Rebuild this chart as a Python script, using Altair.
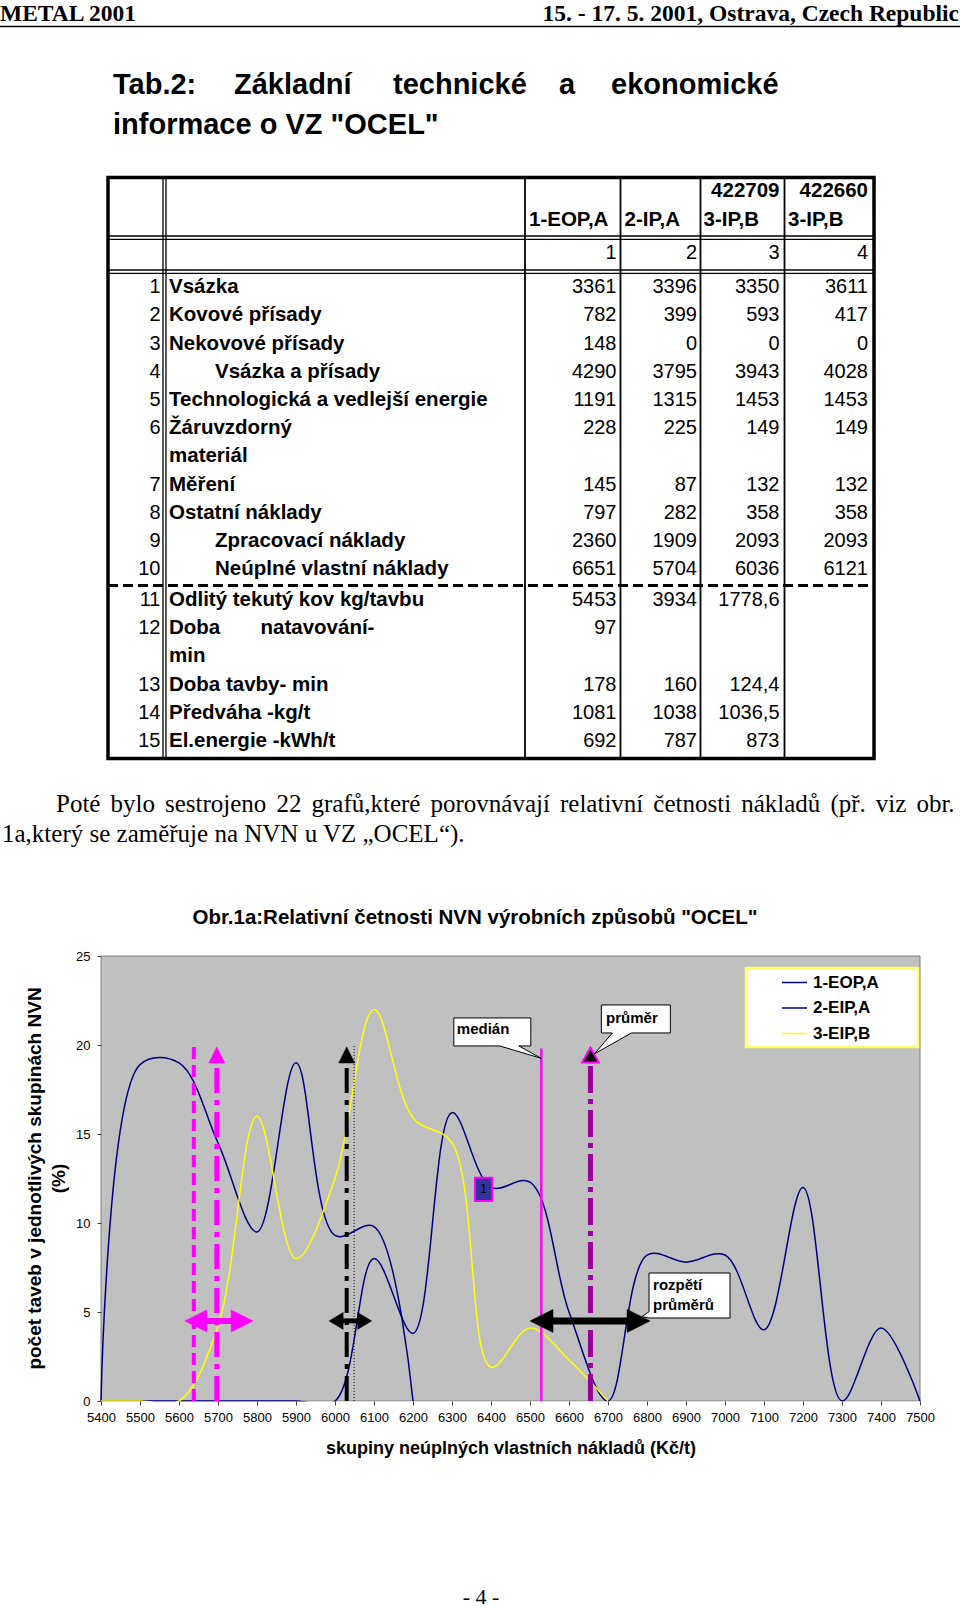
import altair as alt
import pandas as pd

# ---------------- page texts ----------------
header_left = "METAL 2001"
header_right = "15. - 17. 5. 2001, Ostrava, Czech Republic"
title_line1_words = ["Tab.2:", "Základní", "technické", "a", "ekonomické"]
title_line2 = 'informace o VZ "OCEL"'

col_codes = ["", "", "422709", "422660"]
col_names = ["1-EOP,A", "2-IP,A", "3-IP,B", "3-IP,B"]
col_numbers = ["1", "2", "3", "4"]

row_numbers = ["1", "2", "3", "4", "5", "6", "7", "8", "9", "10", "11", "12", "13", "14", "15"]
row_labels = ["Vsázka", "Kovové přísady", "Nekovové přísady", "Vsázka a přísady",
              "Technologická a vedlejší energie", "Žáruvzdorný", "Měření",
              "Ostatní náklady", "Zpracovací náklady", "Neúplné vlastní náklady",
              "Odlitý tekutý kov kg/tavbu", "Doba natavování-", "Doba tavby- min",
              "Předváha -kg/t", "El.energie -kWh/t"]
row_label_second_line = {5: "materiál", 11: "min"}
indented_rows = [3, 8, 9]
val_c1 = ["3361", "782", "148", "4290", "1191", "228", "145", "797", "2360", "6651",
          "5453", "97", "178", "1081", "692"]
val_c2 = ["3396", "399", "0", "3795", "1315", "225", "87", "282", "1909", "5704",
          "3934", "", "160", "1038", "787"]
val_c3 = ["3350", "593", "0", "3943", "1453", "149", "132", "358", "2093", "6036",
          "1778,6", "", "124,4", "1036,5", "873"]
val_c4 = ["3611", "417", "0", "4028", "1453", "149", "132", "358", "2093", "6121",
          "", "", "", "", ""]

paragraph_1 = "Poté bylo sestrojeno 22 grafů,které porovnávají relativní četnosti nákladů (př. viz obr."
paragraph_2 = "1a,který se zaměřuje na NVN u VZ „OCEL“)."
chart_title = 'Obr.1a:Relativní četnosti NVN výrobních způsobů "OCEL"'
footer_text = "- 4 -"

# ---------------- chart data ----------------
nvn_groups = [5400, 5500, 5600, 5700, 5800, 5900, 6000, 6100, 6200, 6300, 6400,
              6500, 6600, 6700, 6800, 6900, 7000, 7100, 7200, 7300, 7400, 7500]
series_names = ["1-EOP,A", "2-EIP,A", "3-EIP,B"]
eop_a = [0, 0, 0, 0, 0, 0, 0, 8.0, 3.8, 16.2, 12.0, 12.3, 5.0, 0, 8.2, 7.8, 8.2,
         4.0, 12.0, 0, 4.1, 0]
eip_a = [0, 18.9, 19.0, 14.5, 9.5, 19.0, 9.3, 9.8, 0, None, None, None, None, None,
         None, None, None, None, None, None, None, None]
eip_b = [0, 0, 0, 4.2, 16.0, 8.0, 12.5, 22.0, 15.9, 14.5, 1.9, 4.1, 2.3, 0,
         None, None, None, None, None, None, None, None]

avg_lines = [5697, 6030, 6655]      # průměr per process
dashed_line = 5638
dotted_line = 6049
median_line = 6529
range_lo = [5615, 5985, 6500]
range_hi = [5790, 6094, 6808]
range_level = 4.5
y_ticks = [0, 5, 10, 15, 20, 25]

y_title = ["počet taveb v jednotlivých  skupinách NVN", "(%)"]
x_title = "skupiny neúplných vlastních nákladů (Kč/t)"

# ---------------- layout ----------------
W, H = 960, 1609
PL, PR, PT, PB = 101, 920, 956, 1401
X0, X1, Y0, Y1 = 5400, 7500, 0, 25
pxx = (PR - PL) / (X1 - X0)
SANS = "Liberation Sans"
SERIF = "Liberation Serif"


def XS():
    return alt.Scale(domain=[X0, X1], range=[PL, PR], zero=False, nice=False)


def YS():
    return alt.Scale(domain=[Y0, Y1], range=[PB, PT], zero=False, nice=False)


def PXS():
    return alt.Scale(domain=[0, W], range=[0, W], zero=False, nice=False)


def PYS():
    return alt.Scale(domain=[0, H], range=[0, H], zero=False, nice=False)


def CX(f="x"):
    return alt.X(f + ":Q", scale=XS(), axis=None)


def CY(f="y"):
    return alt.Y(f + ":Q", scale=YS(), axis=None)


x_axis = alt.Axis(values=nvn_groups, format="d", orient="bottom", offset=-(H - PB),
                  domain=False, grid=False, tickSize=4, tickColor="#404040",
                  labelFont=SANS, labelFontSize=13, labelColor="black", labelPadding=6,
                  labelFlush=False, labelOverlap=False,
                  title=x_title, titleFont=SANS, titleFontSize=18, titleFontWeight="bold",
                  titleColor="black", titleY=52, titleBaseline="alphabetic", zindex=1)
y_axis = alt.Axis(values=y_ticks, orient="left", offset=-PL, domain=False, grid=False,
                  tickSize=4, tickColor="#404040", labelFont=SANS, labelFontSize=13,
                  labelColor="black", labelPadding=7,
                  title=y_title, titleFont=SANS, titleFontSize=19, titleFontWeight="bold",
                  titleColor="black", titleAngle=270, titleX=-57, titleY=1178,
                  titleBaseline="bottom", titleAlign="center", titleLineHeight=24, zindex=1)

bg = alt.Chart(pd.DataFrame({"x": [X0], "x2": [X1], "y": [Y0], "y2": [Y1]})).mark_rect(
    fill="#C0C0C0", stroke="#808080", strokeWidth=1).encode(
    x=alt.X("x:Q", scale=XS(), axis=x_axis), x2="x2:Q",
    y=alt.Y("y:Q", scale=YS(), axis=y_axis), y2="y2:Q")

rows = []
for name, vals in zip(series_names, [eop_a, eip_a, eip_b]):
    for g, v in zip(nvn_groups, vals):
        if v is not None:
            rows.append({"series": name, "x": g, "y": v})
lines_df = pd.DataFrame(rows)

legend = alt.Legend(orient="none", legendX=781, legendY=969, title=None,
                    symbolType="stroke", symbolSize=625, symbolStrokeWidth=1.5,
                    labelFont=SANS, labelFontSize=17, labelFontWeight="bold",
                    labelColor="black", labelOffset=5, rowPadding=3.5, padding=0,
                    labelLimit=300)
lines = alt.Chart(lines_df).mark_line(interpolate="catmull-rom", strokeWidth=1.5).encode(
    x=CX(), y=CY(),
    color=alt.Color("series:N", scale=alt.Scale(domain=series_names,
                                                range=["#000080", "#000080", "#FFFF00"]),
                    legend=legend))

# white band under the axis hides the parts of smoothed curves dipping below 0
mask = alt.Chart(pd.DataFrame({"x": [X0 - 2], "x2": [X1 + 2], "y": [-0.03], "y2": [-0.95]})).mark_rect(
    fill="white").encode(x=CX(), x2="x2:Q", y=CY(), y2="y2:Q")

layers = [bg, lines, mask]

vrules = [
    (dashed_line, 20.0, "#FF00FF", 4, [12, 6]),
    (avg_lines[0], 19.0, "#FF00FF", 5, [25, 7, 5, 7]),
    (avg_lines[1], 19.0, "#000000", 4, [25, 7, 5, 7]),
    (dotted_line, 20.0, "#000000", 1, [1, 2]),
    (median_line, 19.8, "#FF00FF", 2.5, None),
    (avg_lines[2], 19.0, "#990099", 5, [27, 6, 5, 6]),
]
for xv, top, col, sw, dash in vrules:
    kw = dict(color=col, strokeWidth=sw)
    if dash is not None:
        kw["strokeDash"] = dash
    layers.append(alt.Chart(pd.DataFrame({"x": [xv], "y": [0], "y2": [top]})).mark_rule(**kw).encode(
        x=CX(), y=CY(), y2="y2:Q"))


def shape_mark(xv, yv, path, fill, stroke="black", sw=1.0):
    return alt.Chart(pd.DataFrame({"x": [xv], "y": [yv]})).mark_point(
        shape=path, size=4, filled=True, fill=fill, stroke=stroke, strokeWidth=sw,
        opacity=1).encode(x=CX(), y=CY())


def anchored_text(xv, yv, txt, dx, dy, size=15, weight="bold", align="left",
                  baseline="alphabetic"):
    return alt.Chart(pd.DataFrame({"x": [xv], "y": [yv]})).mark_text(
        text=txt, dx=dx, dy=dy, align=align, baseline=baseline, font=SANS,
        fontSize=size, fontWeight=weight, color="black").encode(x=CX(), y=CY())


tri_y = 19.44
tri = "M0,-8L8,8L-8,8Z"
layers.append(shape_mark(avg_lines[0], tri_y, tri, "#FF00FF", stroke="#FF00FF", sw=0.5))
layers.append(shape_mark(avg_lines[1], tri_y, tri, "#000000", stroke="#000000", sw=0.5))
layers.append(shape_mark(avg_lines[2], tri_y, "M0,-7.5L8.3,7.5L-8.3,7.5Z", "#000000",
                         stroke="#FF00FF", sw=2))

arrow_style = [("#FF00FF", 22, 22, 6), ("#000000", 14, 17, 5), ("#000000", 23, 23, 7)]
for lo, hi, (col, L, Hh, sw) in zip(range_lo, range_hi, arrow_style):
    a = lo + (L / 2) / pxx
    b = hi - (L / 2) / pxx
    layers.append(alt.Chart(pd.DataFrame({"x": [a], "x2": [b], "y": [range_level]})).mark_rule(
        color=col, strokeWidth=sw).encode(x=CX(), x2="x2:Q", y=CY()))
    layers.append(shape_mark(lo, range_level, f"M0,0L{L},{-Hh/2}L{L},{Hh/2}Z", col, stroke=col, sw=0.5))
    layers.append(shape_mark(hi, range_level, f"M0,0L{-L},{-Hh/2}L{-L},{Hh/2}Z", col, stroke=col, sw=0.5))

# callout "medián"
med_y = 19.25
layers.append(shape_mark(median_line, med_y,
                         "M-87.5,-40.4L-10.5,-40.4L-10.5,-12.4L-22.5,-12.4L0,0L-41.5,-12.4L-87.5,-12.4Z",
                         "white"))
layers.append(anchored_text(median_line, med_y, "medián", -84.5, -24.4))
# callout "průměr"
layers.append(shape_mark(avg_lines[2], tri_y,
                         "M10.9,-50L79.9,-50L79.9,-22L40.9,-22L3.9,-1L21.9,-22L10.9,-22Z",
                         "white"))
layers.append(anchored_text(avg_lines[2], tri_y, "průměr", 15.6, -32.3))
# callout "rozpětí průměrů"
layers.append(shape_mark(range_hi[2], range_level,
                         "M-1.1,-47.9L79.9,-47.9L79.9,-2.9L-1.1,-2.9L-8.4,-4.2L-1.1,-9.2Z",
                         "white"))
layers.append(anchored_text(range_hi[2], range_level, "rozpětí", 3, -31))
layers.append(anchored_text(range_hi[2], range_level, "průměrů", 3, -11))
# data label "1"
lab_x = nvn_groups[10]
lab_y = eop_a[10]
layers.append(shape_mark(lab_x, lab_y, "M-16,-9.7L1.3,-9.7L1.3,13.6L-16,13.6Z", "#333399",
                         stroke="#FF00FF", sw=2))
layers.append(anchored_text(lab_x, lab_y, "1", -7.3, 2, size=12, weight="normal",
                            align="center", baseline="middle"))


# ---------------- page layer ----------------
def page_text(rows, **kw):
    df = pd.DataFrame(rows, columns=["x", "y", "t"])
    return alt.Chart(df).mark_text(**kw).encode(
        x=alt.X("x:Q", scale=PXS(), axis=None),
        y=alt.Y("y:Q", scale=PYS(), axis=None),
        text="t:N")


def page_rules(rows, **kw):
    df = pd.DataFrame(rows, columns=["x", "y", "x2", "y2"])
    return alt.Chart(df).mark_rule(**kw).encode(
        x=alt.X("x:Q", scale=PXS(), axis=None), x2="x2:Q",
        y=alt.Y("y:Q", scale=PYS(), axis=None), y2="y2:Q")


def page_rect(x, y, x2, y2, **kw):
    df = pd.DataFrame({"x": [x], "y": [y], "x2": [x2], "y2": [y2]})
    return alt.Chart(df).mark_rect(**kw).encode(
        x=alt.X("x:Q", scale=PXS(), axis=None), x2="x2:Q",
        y=alt.Y("y:Q", scale=PYS(), axis=None), y2="y2:Q")


page = []
# header
page.append(page_text([(0, 21, header_left)], font=SERIF, fontSize=23.5, fontWeight="bold",
                      align="left", baseline="alphabetic", color="black"))
page.append(page_text([(959, 21, header_right)], font=SERIF, fontSize=23.5, fontWeight="bold",
                      align="right", baseline="alphabetic", color="black"))
page.append(page_rules([(0, 26.5, 960, 26.5)], color="black", strokeWidth=1.5))

# title
title_x = [113, 234, 393, 559, 611]
page.append(page_text([(x, 85, w) for x, w in zip(title_x, title_line1_words)] +
                      [(113, 125, title_line2)],
                      font=SANS, fontSize=29, fontWeight="bold", align="left",
                      baseline="middle", color="black"))

# table frame
TL, TR, TT, TB = 108, 874, 177.5, 758.5
col_lines = [525, 620.5, 700.5, 784.5]
num_right = [616.5, 697, 779.5, 868]
head_left = [529, 624.5, 703.5, 788]
page.append(page_rect(TL, TT, TR, TB, fillOpacity=0, stroke="black", strokeWidth=3.5))
page.append(page_rules([(163, TT, 163, TB), (166, TT, 166, TB)], color="black", strokeWidth=1.3))
page.append(page_rules([(x, TT, x, TB) for x in col_lines], color="black", strokeWidth=1.8))
page.append(page_rules([(TL, y, TR, y) for y in [236, 239.3, 270, 273.3]],
                       color="black", strokeWidth=1.3))
page.append(page_rules([(TL, 585.6, TR, 585.6)], color="black", strokeWidth=3, strokeDash=[10, 5]))


def line_y(k):
    return 287.2 + 28.2 * k + (2.6 if k >= 11 else 0)


bold_rows, num_rows = [], []
for i in range(4):
    if col_codes[i]:
        bold_rows.append((num_right[i], 190.8, col_codes[i], "right"))
    bold_rows.append((head_left[i], 219.5, col_names[i], "left"))
    num_rows.append((num_right[i], 253.3, col_numbers[i]))

k = 0
for i in range(15):
    y = line_y(k)
    num_rows.append((160.5, y, row_numbers[i]))
    if i == 11:
        w1, w2 = row_labels[i].split(" ")
        bold_rows.append((169, y, w1, "left"))
        bold_rows.append((260.5, y, w2, "left"))
    else:
        bold_rows.append((215 if i in indented_rows else 169, y, row_labels[i], "left"))
    for c, vals in enumerate([val_c1, val_c2, val_c3, val_c4]):
        if vals[i]:
            num_rows.append((num_right[c], y, vals[i]))
    k += 1
    if i in row_label_second_line:
        bold_rows.append((169, line_y(k), row_label_second_line[i], "left"))
        k += 1

page.append(page_text([(x, y, t) for x, y, t, a in bold_rows if a == "left"],
                      font=SANS, fontSize=20.5, fontWeight="bold", align="left",
                      baseline="middle", color="black"))
page.append(page_text([(x, y, t) for x, y, t, a in bold_rows if a == "right"],
                      font=SANS, fontSize=20.5, fontWeight="bold", align="right",
                      baseline="middle", color="black"))
page.append(page_text(num_rows, font=SANS, fontSize=20, align="right",
                      baseline="middle", color="black"))

# paragraph, first line justified between 56 and 956 px
TIMES_W = {" ": 250, "a": 444, "b": 500, "c": 444, "d": 500, "e": 444, "f": 333, "g": 500,
           "h": 500, "i": 278, "j": 278, "k": 500, "l": 278, "m": 778, "n": 500, "o": 500,
           "p": 500, "q": 500, "r": 333, "s": 389, "t": 278, "u": 500, "v": 500, "w": 722,
           "x": 500, "y": 500, "z": 444, ",": 250, ".": 250, "(": 333, ")": 333, "P": 556,
           "é": 444, "á": 444, "í": 278, "ů": 500, "č": 444, "ř": 333, "ý": 500, "ě": 444}
PARA_FS = 25


def tw(word):
    return sum(TIMES_W.get(ch, 500) for ch in word) / 1000 * PARA_FS


words = paragraph_1.split(" ")
gap = (956 - 56 - sum(tw(w) for w in words)) / (len(words) - 1)
xpos, para_rows = 56, []
for w in words:
    para_rows.append((xpos, 812, w))
    xpos += tw(w) + gap
para_rows.append((2, 842, paragraph_2))
page.append(page_text(para_rows, font=SERIF, fontSize=PARA_FS, align="left",
                      baseline="alphabetic", color="black"))
# chart title
page.append(page_text([(475, 918, chart_title)], font=SANS, fontSize=20.5, fontWeight="bold",
                      align="center", baseline="middle", color="black"))
# legend frame
page.append(page_rect(746, 968, 918, 1047, fill="white", stroke="#FFFF66", strokeWidth=2.5))
# footer
page.append(page_text([(481, 1597, footer_text)], font=SERIF, fontSize=22, align="center",
                      baseline="middle", color="black"))

chart = alt.layer(*layers, *page).resolve_scale(
    x="independent", y="independent").properties(
    width=W, height=H, padding=0, autosize=alt.AutoSizeParams(type="none")
).configure_view(strokeWidth=0)

chart.save("out.html", embed_options={"renderer": "svg", "actions": False})
